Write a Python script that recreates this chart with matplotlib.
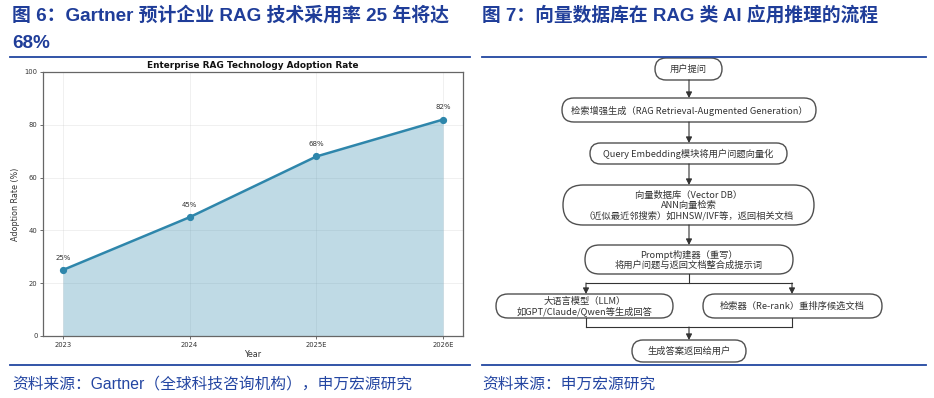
import matplotlib
matplotlib.use("Agg")
import matplotlib.pyplot as plt
from matplotlib.patches import FancyBboxPatch

plt.rcParams['font.family'] = ['Noto Sans CJK SC', 'DejaVu Sans']

# ---------------- data ----------------
years = ["2023", "2024", "2025E", "2026E"]
adoption = [25, 45, 68, 82]
adoption_labels = ["25%", "45%", "68%", "82%"]
y_ticks = [0, 20, 40, 60, 80, 100]

chart_title = "Enterprise RAG Technology Adoption Rate"
x_label = "Year"
y_label = "Adoption Rate (%)"

fig6_title_1 = "图 6：Gartner 预计企业 RAG 技术采用率 25 年将达"
fig6_title_2 = "68%"
fig6_source = "资料来源：Gartner（全球科技咨询机构），申万宏源研究"
fig7_title = "图 7：向量数据库在 RAG 类 AI 应用推理的流程"
fig7_source = "资料来源：申万宏源研究"

flow_texts = [
    "用户提问",
    "检索增强生成（RAG Retrieval-Augmented Generation）",
    "Query Embedding模块将用户问题向量化",
    "向量数据库（Vector DB）\nANN向量检索\n（近似最近邻搜索）如HNSW/IVF等，返回相关文档",
    "Prompt构建器（重写）\n将用户问题与返回文档整合成提示词",
    "大语言模型（LLM）\n如GPT/Claude/Qwen等生成回答",
    "检索器（Re-rank）重排序候选文档",
    "生成答案返回给用户",
]

# ---------------- layout ----------------
W, H = 934, 398
BLUE = "#1F3D99"
SRC_BLUE = "#2446A2"
LINE_BLUE = "#2146A0"
LINE_C = "#2E86AB"
HEAD_FONT = ['Liberation Sans', 'Noto Sans CJK SC']

fig = plt.figure(figsize=(W / 100, H / 100), dpi=100)
fig.patch.set_facecolor("white")

# overlay axes in pixel coordinates
ov = fig.add_axes([0, 0, 1, 1])
ov.set_xlim(0, W)
ov.set_ylim(H, 0)
ov.axis("off")

# headers
ov.text(12, 15, fig6_title_1, fontsize=13.6, fontweight="bold", color=BLUE, va="center", ha="left", family=HEAD_FONT)
ov.text(12, 43, fig6_title_2, fontsize=13.6, fontweight="bold", color=BLUE, va="center", ha="left", family=HEAD_FONT)
ov.text(482, 15, fig7_title, fontsize=13.5, fontweight="bold", color=BLUE, va="center", ha="left", family=HEAD_FONT)
ov.plot([10, 470], [56.5, 56.5], color=LINE_BLUE, lw=1.3)
ov.plot([482, 926], [56.5, 56.5], color=LINE_BLUE, lw=1.3)
ov.plot([10, 470], [365, 365], color=LINE_BLUE, lw=1.3)
ov.plot([482, 926], [365, 365], color=LINE_BLUE, lw=1.3)
ov.text(12, 384, fig6_source, fontsize=11.3, color=SRC_BLUE, va="center", ha="left", family=HEAD_FONT)
ov.text(482, 384, fig7_source, fontsize=11.3, color=SRC_BLUE, va="center", ha="left", family=HEAD_FONT)

# ---- flowchart ----
boxes = [  # (x0, y0, x1, y1)
    (655, 58, 722, 80),
    (562, 98, 816, 122),
    (590, 143, 787, 164),
    (563, 185, 814, 225),
    (585, 245, 793, 274),
    (496, 294, 673, 318),
    (703, 294, 882, 318),
    (632, 340, 746, 362),
]
EDGE = "#505050"
TXT = "#333333"
for (x0, y0, x1, y1), t in zip(boxes, flow_texts):
    h = y1 - y0
    p = FancyBboxPatch((x0, y0), x1 - x0, h,
                       boxstyle=f"round,pad=0,rounding_size={h/2:.1f}",
                       fc="white", ec=EDGE, lw=1.0)
    ov.add_patch(p)
    ov.text((x0 + x1) / 2, (y0 + y1) / 2 + 0.5, t, fontsize=6.7, color=TXT,
            ha="center", va="center", linespacing=1.15, multialignment="center")

def arrow(x, y0, y1):
    ov.annotate("", xy=(x, y1), xytext=(x, y0),
                arrowprops=dict(arrowstyle="-|>,head_length=0.35,head_width=0.18",
                                color="#333333", lw=0.8, shrinkA=0, shrinkB=0))

cx = 689
arrow(cx, 80, 98)
arrow(cx, 122, 143)
arrow(cx, 164, 185)
arrow(cx, 225, 245)
# branch
ov.plot([cx, cx], [274, 283], color="#333333", lw=0.8)
ov.plot([586, 792], [283, 283], color="#333333", lw=0.8)
arrow(586, 283, 294)
arrow(792, 283, 294)
# merge
ov.plot([586, 586], [318, 327], color="#333333", lw=0.8)
ov.plot([792, 792], [318, 327], color="#333333", lw=0.8)
ov.plot([586, 792], [327, 327], color="#333333", lw=0.8)
arrow(cx, 327, 340)

# ---- line chart ----
L, R, T, B = 43, 463, 72, 336
ax = fig.add_axes([L / W, (H - B) / H, (R - L) / W, (B - T) / H])
x = list(range(len(years)))
ax.plot(x, adoption, color=LINE_C, lw=1.8, marker="o", markersize=4.2, zorder=3)
ax.fill_between(x, adoption, 0, color=LINE_C, alpha=0.3, lw=0)
for xi, v, lab in zip(x, adoption, adoption_labels):
    ax.annotate(lab, (xi, v), xytext=(0, 6.5), textcoords="offset points",
                ha="center", va="bottom", fontsize=5.0, color="#333333",
                family="DejaVu Sans")
ax.set_xticks(x)
ax.set_xticklabels(years, family="DejaVu Sans")
ax.set_yticks(y_ticks)
ax.set_ylim(0, 100)
ax.set_xlim(-0.157, 3.157)
ax.tick_params(labelsize=4.9, length=2, width=0.5, pad=2, colors="#333333")
ax.grid(True, color="#cccccc", alpha=0.4, lw=0.5)
ax.set_axisbelow(True)
for s in ax.spines.values():
    s.set_color("#666666")
    s.set_linewidth(0.9)
ax.set_title(chart_title, fontsize=6.4, fontweight="bold", pad=3, family="DejaVu Sans", color="#111111")
ax.set_xlabel(x_label, fontsize=5.8, labelpad=1.5, family="DejaVu Sans", color="#333333")
ax.set_ylabel(y_label, fontsize=5.8, labelpad=3, family="DejaVu Sans", color="#333333")
for lbl in ax.get_yticklabels():
    lbl.set_family("DejaVu Sans")

fig.savefig("out.png", dpi=100, facecolor="white")
